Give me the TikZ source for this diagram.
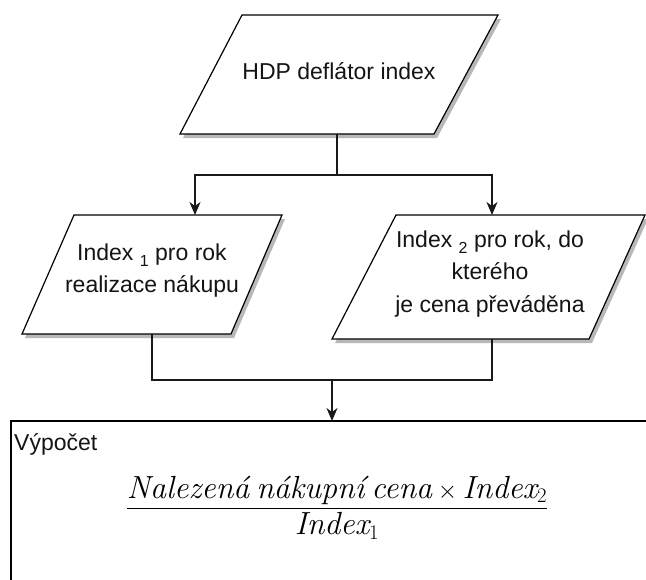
\documentclass[tikz,border=0pt]{standalone}
\usepackage{amsmath}
\usepackage{fontspec}
\setsansfont{Liberation Sans}
\usetikzlibrary{arrows.meta}

\tikzset{
  io/.style={draw=black, line width=1.2pt, fill=white, line join=miter},
  ioshadow/.style={fill=black!28, draw=none},
  lbl/.style={font=\sffamily\fontsize{23}{32.5}\selectfont, align=center, text=black!92, inner sep=0pt},
  link/.style={draw=black!90, line width=1.2pt},
  arr/.style={link, -{Stealth[length=13pt,width=11pt,inset=4pt]}},
  calcbox/.style={draw=black, line width=1.2pt, fill=white},
}
\newcommand{\lowidx}[1]{\raisebox{-6pt}{\fontsize{16}{16}\selectfont #1}}
\newcommand{\wsp}{\hspace{0.22em}}

\begin{document}
\begin{tikzpicture}[x=1pt,y=-1pt]
\useasboundingbox (0,0) rectangle (646,579);
\clip (0,0) rectangle (646,579);
\fill[white] (0,0) rectangle (646,579);

% ---- input: HDP deflator index ----
\fill[ioshadow] (245,19) -- (501,19) -- (437,138) -- (183,138) -- cycle;
\draw[io] (242,15) -- (498,15) -- (434,134) -- (180,134) -- cycle;
\node[lbl] (hdp) at (339,71.5) {HDP deflátor index};
\coordinate (hdp-s) at (337,134);

% ---- input: index 1 ----
\fill[ioshadow] (77,219) -- (285,219) -- (234,338) -- (25,338) -- cycle;
\draw[io] (74,215) -- (282,215) -- (231,334) -- (22,334) -- cycle;
\node[lbl] (idx1) at (152,270.5) {Index \lowidx{1} pro rok\\realizace nákupu};
\coordinate (idx1-n) at (195,215);
\coordinate (idx1-s) at (152,334);

% ---- input: index 2 ----
\fill[ioshadow] (399,219) -- (648,219) -- (592,343) -- (335,343) -- cycle;
\draw[io] (396,215) -- (645,215) -- (589,339) -- (332,339) -- cycle;
\node[lbl] (idx2) at (490,274) {Index \lowidx{2} pro rok, do\\kterého\\je cena převáděna};
\coordinate (idx2-n) at (492,215);
\coordinate (idx2-s) at (492,339);

% ---- calculation block ----
\draw[calcbox] (11,421) rectangle (700,650);
\coordinate (calc-n) at (332,421);
\node[lbl, anchor=base west] (calc-title) at (14,450) {Výpočet};
\node[inner sep=0pt, anchor=base, font=\fontsize{32}{38}\selectfont, text=black] (formula) at (337,515)
  {$\dfrac{\textit{Nalezená\wsp nákupní\wsp cena}\times\textit{Index}_2}{\textit{Index}_1}$};

% ---- connectors ----
\coordinate (split) at (337,175);
\coordinate (join) at (332,380);
\draw[link] (hdp-s) -- (split);
\draw[arr] (split) -| (idx1-n);
\draw[arr] (split) -| (idx2-n);
\draw[link] (idx1-s) |- (join);
\draw[link] (idx2-s) |- (join);
\draw[arr] (join) -- (calc-n);
\end{tikzpicture}
\end{document}
